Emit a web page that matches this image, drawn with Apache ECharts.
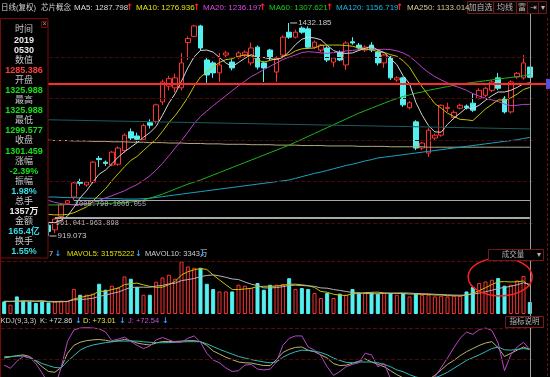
<!doctype html>
<html lang="zh-CN">
<head>
<meta charset="UTF-8">
<title>芯片概念 日线(复权)</title>
<script src="https://cdn.jsdelivr.net/npm/echarts@6/dist/echarts.min.js"></script>
<style>
  html, body { margin: 0; padding: 0; background: #000; }
  #main { width: 550px; height: 377px; }
</style>
</head>
<body>
<div id="main"></div>
<script>
// 交易日 (2019)
var dates = ['0122','0123','0124','0125','0128','0129','0130','0131',
  '0201','0211','0212','0213','0214','0215','0218','0219','0220','0221','0222','0225','0226','0227','0228',
  '0301','0304','0305','0306','0307','0308','0311','0312','0313','0314','0315','0318','0319','0320','0321','0322','0325','0326','0327','0328','0329',
  '0401','0402','0403','0404','0408','0409','0410','0411','0412','0415','0416','0417','0418','0419','0422','0423','0424','0425','0426','0429','0430',
  '0506','0507','0508','0509','0510','0513','0514','0515','0516','0517','0520','0521','0522','0523','0524','0527','0528','0529','0530'];

var opens = [1010,993,1000,982,973,964,956,945,934,966, 998,1013,1050,1042,1049,1106,1097,1090,1092,1125,
  1170,1160,1152,1192,1195,1242,1280,1276,1276,1385, 1400,1425,1343,1336,1312,1355,1338,1350,1355,1336,
  1374,1336,1367,1314,1355,1410,1398,1420,1418,1374, 1367,1372,1338,1362,1331,1387,1379,1367,1379,1362,
  1336,1350,1295,1300,1228,1194,1131,1119,1155,1162, 1226,1205,1227,1232,1239,1251,1258,1270,1300,1251,
  1218,1302,1300,1325.988];
var closes = [995,1002,980,972,962,955,943,930,960,994, 1004,1047,1046,1049,1097,1103,1094,1121,1131,1162,
  1155,1152,1185,1186,1235,1290,1298,1300,1336,1395, 1425,1372,1307,1312,1331,1360,1324,1360,1362,1372,
  1326,1324,1348,1348,1398,1398,1410,1410,1374,1386, 1379,1343,1348,1343,1384,1384,1372,1374,1367,1336,
  1355,1300,1300,1235,1240,1131,1143,1174,1162,1234, 1229,1217,1234,1228,1222,1270,1275,1290,1275,1218,
  1290,1311,1336,1301.459];
var lows = [990,988,975,966,958,950,938,919.073,926,963.898, 995,1006.055,1040,1038,1046,1085,1088,1087,1088,1120,
  1148,1145,1150,1178,1190,1235,1270,1265,1270,1343, 1398,1365,1288,1300,1290,1348,1318,1345,1350,1330,
  1320,1290,1343,1290,1350,1394,1395,1406,1370,1370, 1362,1338,1326,1340,1319,1380,1368,1362,1362,1330,
  1324,1295,1290,1230,1224,1126,1126,1110,1150,1158, 1218,1200,1224,1224,1218,1248,1254,1266,1270,1214,
  1214,1298,1296,1299.577];
var highs = [1015,1006,1004,986,978,968,960,950,961.041,996, 1005.798,1049,1057,1052,1100,1112,1101,1124,1135,1166,
  1178,1168,1190,1200,1238,1296,1305,1310,1360,1400, 1428,1428,1350,1340,1360,1365,1345,1364,1366,1385,
  1378,1340,1370,1352,1402,1432.185,1416,1424,1424,1390, 1382,1376,1350,1366,1388,1398,1384,1378,1386,1366,
  1358,1353,1304,1303,1244,1198,1146,1180,1166,1236, 1240,1222,1238,1236,1263,1275,1278,1294,1312,1256,
  1294,1314,1355,1325.988];

// 成交量 (万手)
var volumes = [1424,1050,1990,1500,1424,1240,1424,1310,1400,1500, 1450,2825,2181,2181,2300,3424,2746,3198,3000,4249,
  3989,3051,2181,2181,3650,4136,4441,3989,5944,5379, 5232,5232,3424,2825,2554,2554,2554,3311,3198,2938,
  3503,2746,3311,3311,3400,4050,2825,2938,2825,2373, 1808,2373,1808,2294,2181,2825,2441,2373,2441,2294,
  2373,2373,2181,2373,1989,2373,2181,2181,1989,2068, 1989,2068,2068,2554,3051,3503,3684,3876,4068,3198,
  3311,3800,4300,1357];

var ma5 = [1005,1000,995,988,982,974,962,952,951,957, 967,988,1011,1028,1049,1068,1078,1093,1109,1122,
  1133,1144,1157,1168,1183,1210,1239,1262,1292,1324, 1351,1366,1367,1362,1349,1336,1327,1337,1347,1356,
  1349,1349,1346,1344,1349,1363,1380,1393,1398,1396, 1392,1378,1366,1360,1359,1360,1366,1371,1376,1367,
  1361,1346,1332,1305,1286,1241,1210,1185,1170,1169, 1188,1203,1215,1228,1226,1234,1246,1257,1266,1266,
  1270,1277,1286,1287.798];
var ma10 = [1000,995,990,985,980,977,974,971,970,970, 971,975,982,989,1003,1018,1033,1052,1069,1086,
  1101,1111,1125,1139,1152,1171,1192,1209,1230,1253, 1280,1302,1314,1327,1337,1344,1346,1352,1355,1353,
  1343,1338,1342,1346,1352,1356,1365,1370,1371,1372, 1378,1379,1379,1379,1378,1376,1372,1369,1368,1363,
  1361,1356,1352,1341,1326,1301,1278,1258,1238,1227, 1215,1207,1200,1199,1197,1211,1225,1236,1247,1246,
  1252,1261,1272,1276.936];
var ma20 = [1040,1035,1030,1025,1020,1015,1010,1005,1000,997, 995,994,995,997,1000,1005,1011,1016,1022,1028,
  1036,1043,1053,1064,1078,1094,1112,1131,1149,1169, 1190,1207,1220,1233,1245,1257,1269,1281,1292,1303,
  1311,1320,1328,1336,1344,1350,1355,1361,1363,1362, 1360,1359,1361,1362,1365,1366,1368,1369,1369,1368,
  1369,1368,1365,1360,1352,1339,1325,1313,1303,1295, 1288,1281,1276,1270,1262,1256,1251,1247,1243,1237,
  1233,1234,1236,1236.197];
var ma60 = [1000,999,998,997,996,995,995,994,994,994, 995,995,995,996,996,997,997,998,999,1000,
  1001,1003,1006,1010,1015,1020,1026,1032,1038,1044, 1049,1054,1060,1066,1072,1078,1084,1090,1096,1102,
  1108,1114,1120,1126,1132,1138,1145,1152,1159,1166, 1173,1180,1187,1194,1201,1208,1215,1221,1227,1233,
  1239,1245,1250,1255,1259,1263,1266,1270,1273,1276, 1279,1282,1285,1287,1289,1291,1293,1295,1297,1299,
  1301,1303,1305,1307.621];
var ma120 = [1018,1017,1016,1015,1015,1014,1014,1013,1013,1012, 1012,1011,1011,1010,1010,1010,1009,1009,1009,1008,
  1008,1008,1009,1010,1012,1014,1016,1018,1020,1022, 1024,1026,1028,1030,1032,1034,1036,1038,1040,1042,
  1044,1046,1048,1050,1052,1054,1058,1062,1066,1070, 1073,1077,1081,1085,1089,1092,1096,1100,1103,1107,
  1109,1111,1113,1115,1117,1119,1121,1123,1125,1127, 1129,1131,1133,1135,1137,1139,1141,1143,1145,1147,
  1149,1151,1154,1156.719];
var ma250 = [1152,1152,1151,1151,1151,1150,1150,1150,1149,1149, 1149,1148,1148,1148,1147,1147,1147,1146,1146,1146,
  1145,1145,1145,1144,1144,1144,1143,1143,1143,1142, 1142,1142,1141,1141,1141,1140,1140,1140,1140,1139,
  1139,1139,1139,1138,1138,1138,1138,1137,1137,1137, 1137,1136,1136,1136,1136,1136,1135,1135,1135,1135,
  1135,1134,1134,1134,1134,1134,1134,1133,1133,1133, 1133,1133,1133,1133,1133,1133,1133,1133,1133,1133,
  1133,1133,1133,1133.014];

var mavol5 = [1420,1400,1450,1480,1478,1441,1516,1380,1360,1375, 1417,1697,1871,2027,2187,2582,2566,2770,2934,3323,
  3436,3497,3294,3130,3010,3040,3318,3679,4432,4778, 4997,5155,5042,4418,3853,3318,2782,2760,2834,2911,
  3101,3139,3139,3162,3254,3364,3379,3305,3208,3002, 2554,2463,2237,2131,2093,2296,2310,2423,2452,2475,
  2384,2371,2332,2319,2258,2258,2219,2219,2143,2158, 2082,2059,2036,2149,2346,2649,2972,3334,3636,3666,
  3627,3651,3735,3157.5222];
var mavol10 = [1450,1440,1450,1460,1470,1450,1440,1430,1420,1426, 1429,1606,1625,1694,1781,2000,2132,2321,2481,2755,
  3009,3032,3032,3032,3167,3238,3408,3487,3781,3894, 4018,4237,4361,4425,4316,4157,3969,3901,3626,3382,
  3209,2961,2949,2998,3083,3232,3259,3222,3185,3128, 2959,2921,2771,2669,2548,2425,2387,2330,2292,2284,
  2340,2340,2378,2386,2366,2321,2295,2276,2231,2208, 2170,2139,2128,2146,2252,2365,2516,2685,2893,3006,
  3138,3311,3535,3343];

// KDJ(9,3,3)
var kLine = [62,63.5,65,66,64,58,51,45,44,50, 68,78,82,84,85,85.5,84.5,83,84,85.5,
  84,81,79.5,78.5,81,83,83,83,83.5,84, 84,82.7,78,71,67,63,60,57,56,55.7,
  54,52.5,52.5,60,69,73,75.5,76,72,70, 66,62,55,52.5,53,55.5,58,61,57,54,
  51,46,41,37,35,35,35,35,40,47, 54,59,65,70,74,78,81,82.7,75,64,
  68,72,76,72.86];
var dLine = [63.7,64,64.5,64.6,62,59,55,52.5,50,49.5, 58,65,72,76,78.5,80,81.5,82.5,83.5,83.5,
  83.5,83.5,82.5,82,81.5,81.4,81.5,82,82.5,82.7, 82.7,82.7,80,76.5,73,70,67,64,62,60,
  58.5,57,56,57,63,67,70,72,71.5,70.5, 69,66,62,59,56.5,56,57,57,57,56,
  54,51,47,44.7,41,38,36.5,35.5,37,40, 44,49,54,59,62.5,66,70,74,76,72.5,
  72,73,74,73.01];
var jLine = [53,49,58,64,63,55,43,30,25,50, 83,97.5,100,100.5,100,99,95,84,86,88.5,
  83,78,74,77,85,88,85,82,82,87, 90,82,68,59.5,56,49.5,45,46,53,54,
  48,47,48,57,78,87,90,90,76,72, 65,51,40,45,51,54,56,68,66,51,
  55,36,30,28,30,30,30,32,38,50, 62,75,87,95,92,98,100,97,81,46,
  66,76,82,72.54];

var crossValue = 1285.386;
var priceLevels = [950, 1050, 1150, 1250, 1350];
var gapLow = [961.041, 963.898];
var gapHigh = [1005.798, 1006.055];

var panelRows = [
  ['时间', '#c8c8c8'], ['2019', '#e8e8e8'], ['0530', '#e8e8e8'], ['数值', '#c8c8c8'],
  ['1285.386', '#ff3c3c'], ['开盘', '#c8c8c8'], ['1325.988', '#14e014'], ['最高', '#c8c8c8'],
  ['1325.988', '#14e014'], ['最低', '#c8c8c8'], ['1299.577', '#14e014'], ['收盘', '#c8c8c8'],
  ['1301.459', '#14e014'], ['涨幅', '#c8c8c8'], ['-2.39%', '#14e014'], ['振幅', '#c8c8c8'],
  ['1.98%', '#3cd8e0'], ['总手', '#c8c8c8'], ['1357万', '#e8e8e8'], ['金额', '#c8c8c8'],
  ['165.4亿', '#3cd8e0'], ['换手', '#c8c8c8'], ['1.55%', '#3cd8e0']
];

var UP = '#ff3232', DOWN = '#54f0f0', ARROW = '#3c9cff';
var FONT = '"Liberation Sans", "Noto Sans CJK SC", sans-serif';
var ARROW_FONT = '"DejaVu Sans", sans-serif';
var last = dates.length - 1;

var candle = [];
for (var i = 0; i < dates.length; i++) {
  candle.push([opens[i], closes[i], lows[i], highs[i]]);
}
var volData = volumes.map(function (v, i) {
  var up = closes[i] >= opens[i];
  return {
    value: v,
    itemStyle: up ? {color: '#000', borderColor: UP, borderWidth: 1}
                  : {color: DOWN, borderColor: DOWN, borderWidth: 1}
  };
});

function lineSeries(name, data, color, xi) {
  return {
    name: name, type: 'line', data: data, xAxisIndex: xi, yAxisIndex: xi,
    symbol: 'none', showSymbol: false, silent: true,
    lineStyle: {width: 1, color: color}
  };
}

function gapLine(from, value, text) {
  var start = {coord: [dates[from], value], lineStyle: {color: '#a8a8a8', width: 1, type: 'solid'}};
  if (text) {
    start.label = {
      show: true, position: 'insideStartBottom', distance: 1, formatter: text,
      color: '#b8b8b8', fontSize: 7, fontFamily: '"Liberation Mono", monospace'
    };
  }
  return [start, {coord: [dates[last], value]}];
}

var markLines = priceLevels.map(function (v) {
  return {yAxis: v, lineStyle: {color: '#4a0808', type: 'dashed', width: 1}};
});
markLines.push(gapLine(8, gapLow[0], '961.041-963.898'));
markLines.push(gapLine(8, gapLow[1], null));
markLines.push(gapLine(11, gapHigh[0], '1005.798-1006.055'));
markLines.push(gapLine(11, gapHigh[1], null));
markLines.push([{coord: [dates[7], 1199], lineStyle: {color: '#1c5c5e', width: 1, type: 'solid'}},
                {coord: [dates[last], 1177]}]);

var option = {
  backgroundColor: '#000',
  animation: false,
  textStyle: {fontFamily: FONT},
  grid: [
    {left: 1, right: 17, top: 17, height: 240},
    {left: 1, right: 17, top: 261, height: 53},
    {left: 1, right: 17, top: 318, height: 59}
  ],
  xAxis: [0, 1, 2].map(function (g) {
    return {type: 'category', gridIndex: g, data: dates, show: false, boundaryGap: true};
  }),
  yAxis: [
    {gridIndex: 0, min: 868.5, max: 1446.6, show: false},
    {gridIndex: 1, min: 0, max: 6000, show: false},
    {gridIndex: 2, min: 38, max: 112.7, show: false}
  ],
  series: [
    {
      name: '日线', type: 'candlestick', data: candle, xAxisIndex: 0, yAxisIndex: 0,
      barWidth: 5, silent: true,
      itemStyle: {color: '#000', color0: DOWN, borderColor: UP, borderColor0: DOWN, borderWidth: 1},
      markLine: {
        silent: true, animation: false, symbol: ['none', 'none'],
        label: {show: false},
        data: markLines
      },
      markPoint: {
        silent: true, animation: false,
        symbol: 'rect', symbolSize: [7, 1], symbolOffset: [4.5, 0],
        itemStyle: {color: '#c8c8c8'},
        label: {show: true, position: 'right', distance: 1, color: '#c8c8c8', fontSize: 8, fontFamily: FONT},
        data: [
          {coord: [dates[45], highs[45]], value: highs[45], label: {formatter: String(highs[45])}},
          {coord: [dates[7], lows[7]], value: lows[7], label: {formatter: String(lows[7])}}
        ]
      }
    },
    lineSeries('MA250', ma250, '#b0ac80', 0),
    lineSeries('MA120', ma120, '#1ea2c4', 0),
    lineSeries('MA60', ma60, '#1eb41e', 0),
    lineSeries('MA20', ma20, '#c040c8', 0),
    lineSeries('MA10', ma10, '#c8c400', 0),
    lineSeries('MA5', ma5, '#d4d4d4', 0),
    {
      name: 'VOL', type: 'bar', data: volData, xAxisIndex: 1, yAxisIndex: 1,
      barWidth: 4, silent: true,
      markLine: {
        silent: true, animation: false, symbol: ['none', 'none'], label: {show: false},
        data: [{yAxis: 6000, lineStyle: {color: '#5a0a0a', type: 'dashed', width: 1}}]
      }
    },
    lineSeries('MAVOL5', mavol5, '#c8c400', 1),
    lineSeries('MAVOL10', mavol10, '#b4b4b4', 1),
    {
      name: 'K', type: 'line', data: kLine, xAxisIndex: 2, yAxisIndex: 2,
      symbol: 'none', silent: true, lineStyle: {width: 1, color: '#b8b46a'},
      markLine: {
        silent: true, animation: false, symbol: ['none', 'none'], label: {show: false},
        data: [
          {yAxis: 100, lineStyle: {color: '#5a0a0a', type: 'dashed', width: 1}},
          {yAxis: 60, lineStyle: {color: '#4a0808', type: 'dashed', width: 1}}
        ]
      }
    },
    lineSeries('D', dLine, '#34b8b8', 2),
    lineSeries('J', jLine, '#b848c8', 2)
  ]
};

var chart = echarts.init(document.getElementById('main'));
chart.setOption(option);

// 叠加层：标题栏、信息面板、十字光标
function txt(text, x, y, color, size, opts) {
  opts = opts || {};
  return {
    type: 'text', x: x, y: y, z: opts.z || 60, silent: true,
    style: {
      text: text, fill: color,
      font: (opts.bold ? 'bold ' : '') + size + 'px ' + (opts.family || FONT),
      align: opts.align || 'left', textAlign: opts.align || 'left',
      verticalAlign: 'middle', textVerticalAlign: 'middle'
    }
  };
}
function arrow(ch, x, y, color, size) {
  return txt(ch, x, y, color, size, {bold: true, family: ARROW_FONT});
}
function rect(x, y, w, h, fill, stroke, z) {
  return {type: 'rect', z: z || 55, silent: true, shape: {x: x, y: y, width: w, height: h},
          style: {fill: fill, stroke: stroke, lineWidth: 1}};
}
function line(x1, y1, x2, y2, color, w, dash, z) {
  return {type: 'line', z: z || 40, silent: true, shape: {x1: x1, y1: y1, x2: x2, y2: y2},
          style: {stroke: color, lineWidth: w, lineDash: dash || null}};
}

var g = [];
var cross = chart.convertToPixel({xAxisIndex: 0, yAxisIndex: 0}, [dates[last], crossValue]);
var cx = Math.round(cross[0]) + 0.5, cy = cross[1];

// 边框
g.push(line(547.5, 18, 547.5, 377, '#7a0a0a', 1, [3, 2], 30));
g.push(line(0.5, 258, 0.5, 377, '#7a0a0a', 1, null, 30));

// 十字光标
g.push(line(cx, 13, cx, 377, '#a0a0a0', 1, null, 40));
g.push(line(48, cy, 550, cy, '#ff2a2a', 2, null, 41));
g.push(rect(546, cy - 5, 4, 10, '#5a50d8', null, 42));

// 圈注
var ell = chart.convertToPixel({xAxisIndex: 1, yAxisIndex: 1}, [dates[78], 4200]);
g.push({type: 'ellipse', z: 45, silent: true, shape: {cx: ell[0] + 2, cy: ell[1], rx: 32, ry: 19},
        style: {fill: null, stroke: '#ff2020', lineWidth: 1.5}});

// 标题栏
var red = '#ff2020';
g.push(txt('日线(复权)', 1, 7.5, '#d2d2d2', 7.5));
g.push(txt('芯片概念', 41, 7.5, '#d2d2d2', 7.5));
g.push(txt('MA5: ' + ma5[last].toFixed(3), 74, 7.5, '#dcdcdc', 8));
g.push(arrow('↑', 126, 7.5, red, 9));
g.push(txt('MA10: ' + ma10[last].toFixed(3), 136, 7.5, '#e8e800', 8));
g.push(arrow('↑', 193, 7.5, red, 9));
g.push(txt('MA20: ' + ma20[last].toFixed(3), 203, 7.5, '#e048e0', 8));
g.push(arrow('↑', 259, 7.5, red, 9));
g.push(txt('MA60: ' + ma60[last].toFixed(3), 269, 7.5, '#18d018', 8));
g.push(arrow('↑', 326, 7.5, red, 9));
g.push(txt('MA120: ' + ma120[last].toFixed(3), 336, 7.5, '#18b8e0', 8));
g.push(arrow('↑', 396, 7.5, red, 9));
g.push(txt('MA250: ' + ma250[last].toFixed(3), 407, 7.5, '#d8c896', 8));
[['加自选', 467, 26], ['均线', 493, 23], ['富', 516, 11], ['⇥', 527, 11], ['▾', 538, 8]].forEach(function (b) {
  g.push(rect(b[1] + 0.5, 1.5, b[2], 12, '#0c0606', '#6e1a1a', 55));
  g.push(txt(b[0], b[1] + 0.5 + b[2] / 2, 7.5, '#b8b8b8', 8, {align: 'center'}));
});

// 左侧信息面板
g.push(rect(0.5, 18.5, 47.5, 239.5, '#000', '#7a0a0a', 55));
g.push(rect(41.5, 21.5, 6, 6, '#000', '#7a0a0a', 56));
g.push(txt('×', 44.5, 24.5, '#a0a0a0', 7, {align: 'center'}));
panelRows.forEach(function (r, i) {
  var isNum = /[0-9]/.test(r[0]);
  g.push(txt(r[0], 24, 30 + 10.09 * i, r[1], 9, {align: 'center', bold: isNum}));
});

// 成交量标题
g.push(txt('7', 49, 254, '#d0d0d0', 7.5));
g.push(arrow('↓', 54.5, 254, ARROW, 8));
g.push(txt('MAVOL5: ' + Math.round(mavol5[last] * 10000), 67, 254, '#e0e000', 7.5));
g.push(arrow('↓', 135, 254, ARROW, 8));
g.push(txt('MAVOL10: ' + mavol10[last] + '万', 145, 254, '#d0d0d0', 7.5));
g.push(arrow('↓', 199, 254, ARROW, 8));
g.push(rect(488.5, 249.5, 55, 11, '#000', '#6e1a1a', 55));
g.push(txt('成交量', 513, 255, '#b0b0b0', 7.5, {align: 'center'}));
g.push(txt('▾', 539, 255, '#b0b0b0', 7.5, {align: 'center'}));

// KDJ 标题
g.push(txt('KDJ(9,3,3)', 0.5, 321, '#c8c8c8', 7.5));
g.push(txt('K: +' + kLine[last].toFixed(2), 40, 321, '#d8d8d8', 7.5));
g.push(arrow('↓', 75, 321, ARROW, 8));
g.push(txt('D: +' + dLine[last].toFixed(2), 83, 321, '#e0e040', 7.5));
g.push(arrow('↓', 119, 321, ARROW, 8));
g.push(txt('J: +' + jLine[last].toFixed(2), 128, 321, '#d050d0', 7.5));
g.push(arrow('↓', 162, 321, ARROW, 8));
g.push(rect(505.5, 316.5, 38, 11, '#000', '#7a1a1a', 55));
g.push(txt('指标说明', 524.5, 322, '#b8b8b8', 7.5, {align: 'center'}));

chart.setOption({graphic: {elements: g}});
</script>
</body>
</html>
